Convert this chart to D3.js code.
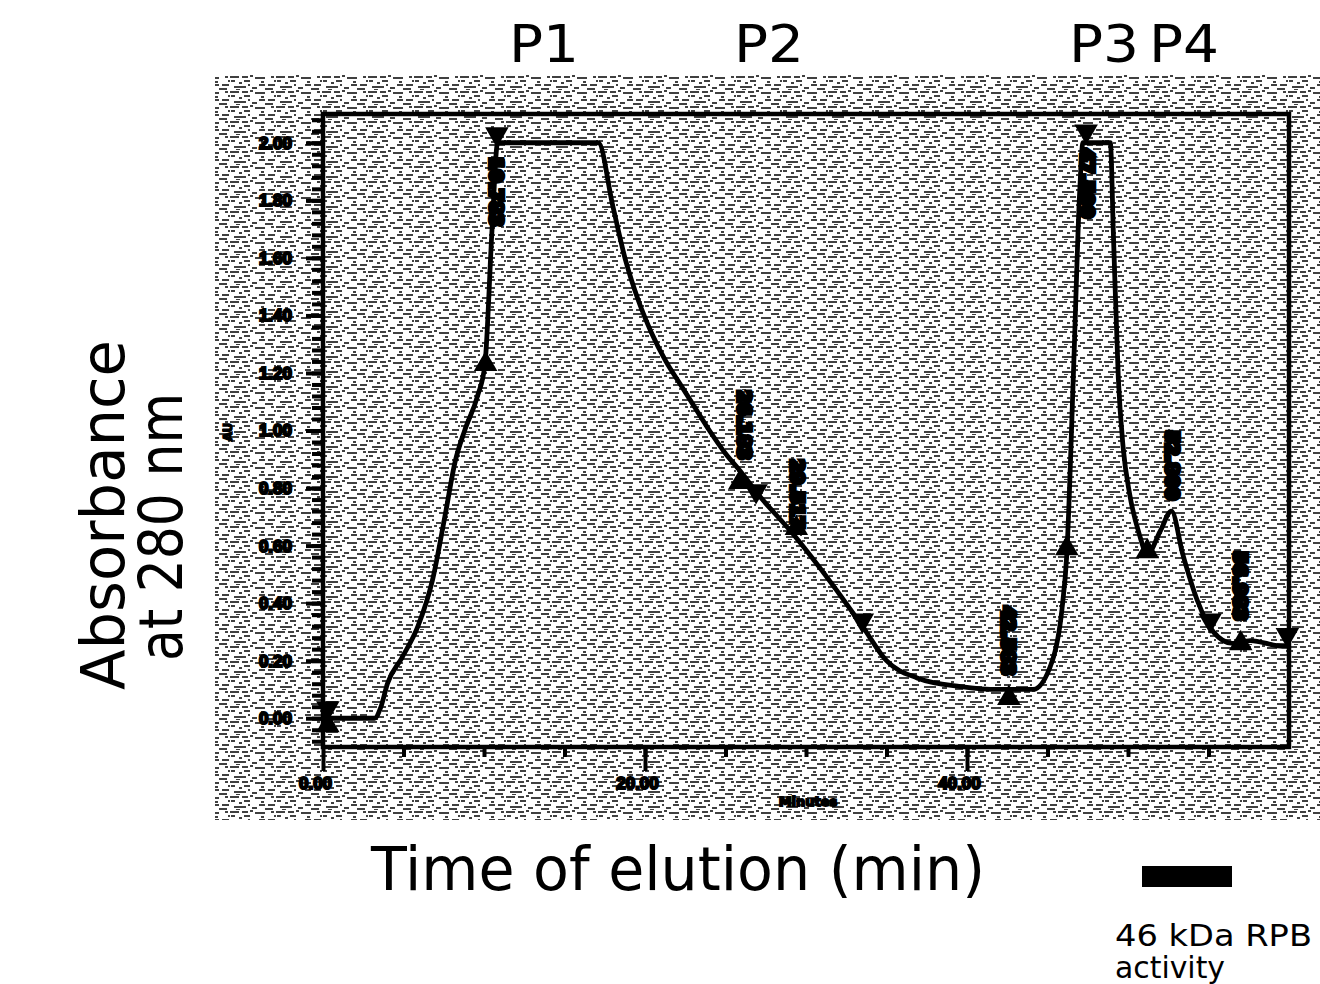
<!DOCTYPE html>
<html>
<head>
<meta charset="utf-8">
<script src="https://cdn.jsdelivr.net/npm/d3@7"></script>
<style>
  body { margin: 0; background: #fff; }
</style>
</head>
<body>
<div id="chart"></div>
<script>
// absorbance trace (time in min, absorbance AU)
var traceTime = [0, 3.2, 3.6, 4.0, 4.9, 5.9, 6.8, 7.6, 8.2, 8.8, 9.6, 10.06, 10.5, 10.85,
  17.1, 18.0, 18.8, 19.6, 20.4, 21.3, 22.2, 23.1, 24.0, 25.0, 25.9, 27.0, 29.2, 31.7, 33.5,
  35.0, 36.9, 39.6, 42.0, 44.1, 45.3, 45.9, 46.2, 46.6, 47.0, 47.2, 48.9, 49.1, 49.4, 49.7,
  50.1, 50.7, 51.2, 52.0, 52.7, 53.4, 54.3, 55.3, 56.5, 57.6, 59.6, 60];
var traceAbs = [0, 0, 0.04, 0.12, 0.21, 0.32, 0.48, 0.71, 0.89, 1.0, 1.12, 1.23, 1.7, 2.0,
  2.0, 1.78, 1.59, 1.45, 1.34, 1.24, 1.16, 1.08, 1.0, 0.92, 0.86, 0.78, 0.64, 0.46, 0.32,
  0.20, 0.14, 0.11, 0.10, 0.10, 0.20, 0.38, 0.57, 1.18, 1.83, 2.0, 2.0, 1.67, 1.18, 0.94,
  0.78, 0.64, 0.57, 0.65, 0.72, 0.57, 0.41, 0.30, 0.26, 0.27, 0.25, 0.25];

// fraction markers
var markTime = [0.3, 0.3, 10.1, 10.8, 25.9, 26.9, 29.4, 33.5, 42.6, 46.2, 47.4, 51.2, 55.1, 57.0, 59.9];
var markAbs  = [0.035, -0.025, 1.23, 2.03, 0.82, 0.79, 0.66, 0.34, 0.07, 0.59, 2.04, 0.58, 0.34, 0.26, 0.29];
var markDir  = ["down", "up", "up", "down", "up", "down", "up", "down", "up", "up", "down", "up", "down", "up", "down"];

// vertical peak labels (time, top absorbance, text)
var peakTime = [10.8, 26.2, 29.5, 42.6, 47.5, 52.8, 57.0];
var peakTop  = [1.95, 1.14, 0.90, 0.39, 1.98, 1.00, 0.58];
var peakText = ["10.783", "26.183", "29.517", "42.583", "47.500", "52.800", "56.983"];

var yTicks = [0, 0.2, 0.4, 0.6, 0.8, 1.0, 1.2, 1.4, 1.6, 1.8, 2.0];
var xTicks = [0, 20, 40];
var peakNames = ["P1", "P2", "P3", "P4"];
var peakNameX = [544, 769, 1104, 1184];

var W = 1320, H = 984;
var svg = d3.select("#chart").append("svg")
  .attr("width", W).attr("height", H)
  .style("font-family", "'DejaVu Sans', sans-serif");

// scan-like speckled background
var defs = svg.append("defs");
var pat = defs.append("pattern").attr("id", "speck")
  .attr("width", 46).attr("height", 15).attr("patternUnits", "userSpaceOnUse");
pat.append("rect").attr("width", 46).attr("height", 15).attr("fill", "#fff");
[[0, 1, 9, 2], [14, 5, 6, 2], [25, 2, 10, 2], [38, 9, 7, 2], [4, 11, 12, 2], [22, 12, 5, 2],
 [31, 6, 3, 2], [9, 7, 3, 2], [41, 1, 3, 2], [18, 9, 2, 2], [29, 9, 6, 2], [1, 5, 4, 2],
 [35, 13, 8, 2], [12, 1, 6, 2], [44, 5, 2, 2], [20, 0, 3, 2], [6, 14, 4, 1]].forEach(function(r) {
  pat.append("rect").attr("x", r[0]).attr("y", r[1]).attr("width", r[2]).attr("height", r[3]).attr("fill", "#000");
});
svg.append("rect").attr("x", 215).attr("y", 75).attr("width", W - 215).attr("height", 745)
  .attr("fill", "url(#speck)").attr("opacity", 0.75);

var x = d3.scaleLinear().domain([0, 60]).range([323, 1289]);
var y = d3.scaleLinear().domain([-0.1, 2.1]).range([747, 114]);

// frame
svg.append("rect")
  .attr("x", x(0)).attr("y", y(2.1))
  .attr("width", x(60) - x(0)).attr("height", y(-0.1) - y(2.1))
  .attr("fill", "none").attr("stroke", "#000").attr("stroke-width", 4.5);

// y axis: minor ticks every 0.04, labels every 0.2
var yAxis = svg.append("g").attr("transform", "translate(" + x(0) + ",0)")
  .call(d3.axisLeft(y).tickValues(d3.range(-0.08, 2.1, 0.04)).tickSize(11).tickFormat(""));
yAxis.select(".domain").remove();
yAxis.selectAll("line").attr("stroke", "#000").attr("stroke-width", 4);
var yLab = svg.append("g").attr("transform", "translate(" + x(0) + ",0)")
  .call(d3.axisLeft(y).tickValues(yTicks).tickSize(17).tickPadding(14).tickFormat(d3.format(".2f")));
yLab.select(".domain").remove();
yLab.selectAll("line").attr("stroke", "#000").attr("stroke-width", 4);
yLab.selectAll("text").attr("font-size", 17).attr("font-weight", "bold")
  .attr("fill", "#000").attr("stroke", "#000").attr("stroke-width", 2.2);

// x axis: minor every 5 min, labels at 0/20/40
var xAxis = svg.append("g").attr("transform", "translate(0," + y(-0.1) + ")")
  .call(d3.axisBottom(x).tickValues(d3.range(5, 60, 5)).tickSize(10).tickFormat(""));
xAxis.select(".domain").remove();
xAxis.selectAll("line").attr("stroke", "#000").attr("stroke-width", 4);
var xLab = svg.append("g").attr("transform", "translate(0," + y(-0.1) + ")")
  .call(d3.axisBottom(x).tickValues(xTicks).tickSize(24).tickPadding(6).tickFormat(d3.format(".2f")));
xLab.select(".domain").remove();
xLab.selectAll("line").attr("stroke", "#000").attr("stroke-width", 4);
xLab.selectAll("text").attr("font-size", 17).attr("font-weight", "bold")
  .attr("fill", "#000").attr("stroke", "#000").attr("stroke-width", 2.2)
  .attr("dx", -8);

svg.append("text").attr("x", 808).attr("y", 806).attr("text-anchor", "middle")
  .attr("font-size", 13).attr("font-weight", "bold")
  .attr("stroke", "#000").attr("stroke-width", 1.8).text("Minutes");
svg.append("text").attr("transform", "translate(232,432) rotate(-90)").attr("text-anchor", "middle")
  .attr("font-size", 12).attr("font-weight", "bold")
  .attr("stroke", "#000").attr("stroke-width", 1.4).text("AU");

// absorbance trace
var trace = traceTime.map(function(t, i) { return [t, traceAbs[i]]; });
svg.append("path").datum(trace)
  .attr("fill", "none").attr("stroke", "#000").attr("stroke-width", 4.8)
  .attr("stroke-linejoin", "round")
  .attr("d", d3.line().x(function(d) { return x(d[0]); }).y(function(d) { return y(d[1]); })
    .curve(d3.curveMonotoneX));

// vertical peak labels
svg.selectAll(".plab").data(peakTime).enter().append("text")
  .attr("class", "plab")
  .attr("transform", function(d, i) { return "translate(" + (x(d) - 7) + "," + y(peakTop[i]) + ") rotate(90)"; })
  .attr("font-size", 18).attr("font-weight", "bold")
  .attr("stroke", "#000").attr("stroke-width", 4.5)
  .text(function(d, i) { return peakText[i]; });

// fraction markers
var tri = d3.symbol().type(d3.symbolTriangle).size(240);
svg.selectAll(".mk").data(markTime).enter().append("path")
  .attr("class", "mk")
  .attr("d", tri)
  .attr("transform", function(d, i) {
    return "translate(" + x(d) + "," + y(markAbs[i]) + ")" + (markDir[i] === "down" ? " rotate(180)" : "");
  })
  .attr("fill", "#000");

// peak names
svg.selectAll(".pn").data(peakNames).enter().append("text")
  .attr("class", "pn")
  .attr("x", function(d, i) { return peakNameX[i]; }).attr("y", 62)
  .attr("text-anchor", "middle")
  .attr("font-family", "'Liberation Sans Narrow', 'DejaVu Sans Condensed', sans-serif")
  .attr("font-size", 52)
  .attr("textLength", 70).attr("lengthAdjust", "spacingAndGlyphs")
  .text(function(d) { return d; });

// axis titles
svg.append("text").attr("transform", "translate(124,515) rotate(-90)")
  .attr("text-anchor", "middle").attr("font-size", 60)
  .attr("textLength", 350).attr("lengthAdjust", "spacingAndGlyphs")
  .text("Absorbance");
svg.append("text").attr("transform", "translate(182,527) rotate(-90)")
  .attr("text-anchor", "middle").attr("font-size", 60)
  .attr("textLength", 268).attr("lengthAdjust", "spacingAndGlyphs")
  .text("at 280 nm");
svg.append("text").attr("x", 678).attr("y", 890)
  .attr("text-anchor", "middle").attr("font-size", 60)
  .attr("textLength", 614).attr("lengthAdjust", "spacingAndGlyphs")
  .text("Time of elution (min)");

// legend for activity bar
svg.append("rect").attr("x", 1142).attr("y", 866).attr("width", 90).attr("height", 21).attr("fill", "#000");
svg.append("text").attr("x", 1115).attr("y", 946).attr("font-size", 30)
  .attr("textLength", 197).attr("lengthAdjust", "spacingAndGlyphs").text("46 kDa RPB");
svg.append("text").attr("x", 1115).attr("y", 978).attr("font-size", 30)
  .attr("textLength", 110).attr("lengthAdjust", "spacingAndGlyphs").text("activity");
</script>
</body>
</html>
